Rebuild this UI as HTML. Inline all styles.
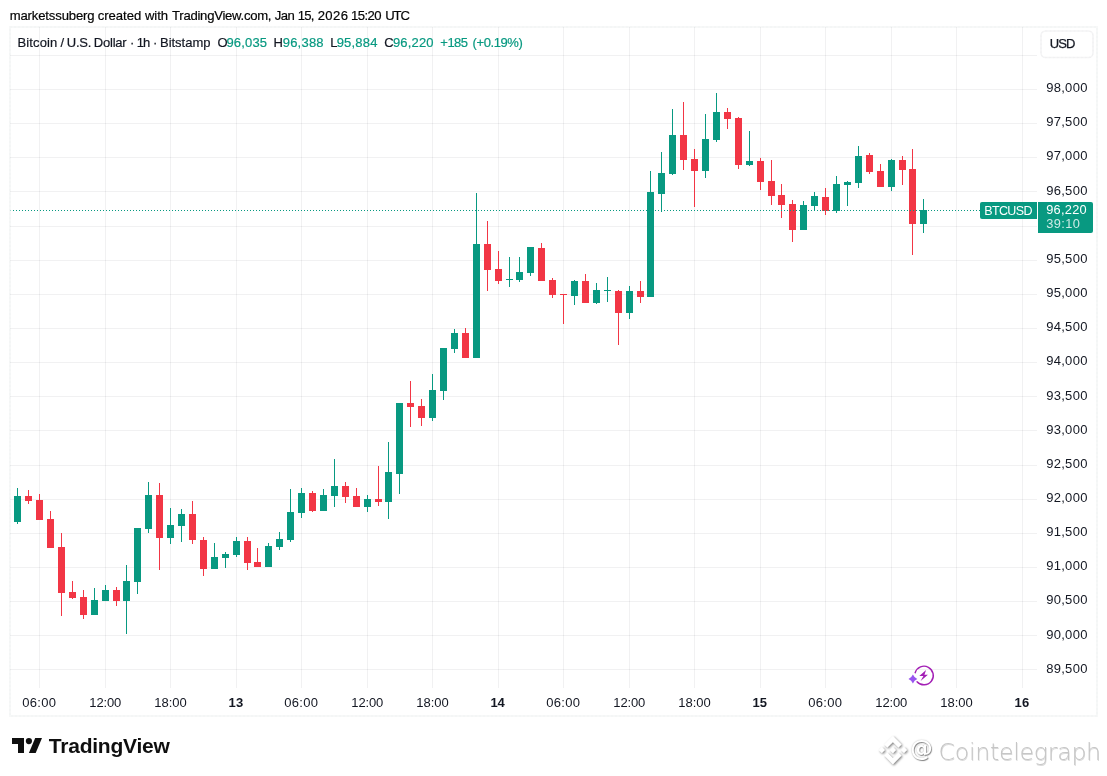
<!DOCTYPE html>
<html><head><meta charset="utf-8"><title>BTCUSD 1h chart</title>
<style>
html,body{margin:0;padding:0;background:#fff;overflow:hidden;}
body{width:1107px;height:776px;overflow:hidden;position:relative;font-family:"Liberation Sans",sans-serif;}
.abs{position:absolute;}
.t{position:absolute;white-space:pre;line-height:20px;height:20px;color:#131722;}
.t::before{content:"";display:inline-block;height:20px;vertical-align:baseline;}
#sym{position:absolute;left:980px;top:202px;width:57px;height:17px;background:#089981;border-radius:2px 0 0 2px;}
#prc{position:absolute;left:1038px;top:202px;width:55px;height:31px;background:#089981;border-radius:0 2px 2px 0;}
</style></head><body>
<svg class="abs" style="left:0;top:0" width="1107" height="776" viewBox="0 0 1107 776" shape-rendering="crispEdges">
<rect x="10" y="55" width="1027" height="1" fill="#2a2e39" fill-opacity="0.065"/>
<rect x="10" y="89" width="1027" height="1" fill="#2a2e39" fill-opacity="0.065"/>
<rect x="10" y="123" width="1027" height="1" fill="#2a2e39" fill-opacity="0.065"/>
<rect x="10" y="157" width="1027" height="1" fill="#2a2e39" fill-opacity="0.065"/>
<rect x="10" y="191" width="1027" height="1" fill="#2a2e39" fill-opacity="0.065"/>
<rect x="10" y="226" width="1027" height="1" fill="#2a2e39" fill-opacity="0.065"/>
<rect x="10" y="260" width="1027" height="1" fill="#2a2e39" fill-opacity="0.065"/>
<rect x="10" y="294" width="1027" height="1" fill="#2a2e39" fill-opacity="0.065"/>
<rect x="10" y="328" width="1027" height="1" fill="#2a2e39" fill-opacity="0.065"/>
<rect x="10" y="362" width="1027" height="1" fill="#2a2e39" fill-opacity="0.065"/>
<rect x="10" y="396" width="1027" height="1" fill="#2a2e39" fill-opacity="0.065"/>
<rect x="10" y="430" width="1027" height="1" fill="#2a2e39" fill-opacity="0.065"/>
<rect x="10" y="465" width="1027" height="1" fill="#2a2e39" fill-opacity="0.065"/>
<rect x="10" y="499" width="1027" height="1" fill="#2a2e39" fill-opacity="0.065"/>
<rect x="10" y="533" width="1027" height="1" fill="#2a2e39" fill-opacity="0.065"/>
<rect x="10" y="567" width="1027" height="1" fill="#2a2e39" fill-opacity="0.065"/>
<rect x="10" y="601" width="1027" height="1" fill="#2a2e39" fill-opacity="0.065"/>
<rect x="10" y="635" width="1027" height="1" fill="#2a2e39" fill-opacity="0.065"/>
<rect x="10" y="669" width="1027" height="1" fill="#2a2e39" fill-opacity="0.065"/>
<rect x="39" y="27" width="1" height="661" fill="#2a2e39" fill-opacity="0.065"/>
<rect x="105" y="27" width="1" height="661" fill="#2a2e39" fill-opacity="0.065"/>
<rect x="170" y="27" width="1" height="661" fill="#2a2e39" fill-opacity="0.065"/>
<rect x="236" y="27" width="1" height="661" fill="#2a2e39" fill-opacity="0.065"/>
<rect x="301" y="27" width="1" height="661" fill="#2a2e39" fill-opacity="0.065"/>
<rect x="367" y="27" width="1" height="661" fill="#2a2e39" fill-opacity="0.065"/>
<rect x="432" y="27" width="1" height="661" fill="#2a2e39" fill-opacity="0.065"/>
<rect x="498" y="27" width="1" height="661" fill="#2a2e39" fill-opacity="0.065"/>
<rect x="563" y="27" width="1" height="661" fill="#2a2e39" fill-opacity="0.065"/>
<rect x="629" y="27" width="1" height="661" fill="#2a2e39" fill-opacity="0.065"/>
<rect x="694" y="27" width="1" height="661" fill="#2a2e39" fill-opacity="0.065"/>
<rect x="760" y="27" width="1" height="661" fill="#2a2e39" fill-opacity="0.065"/>
<rect x="825" y="27" width="1" height="661" fill="#2a2e39" fill-opacity="0.065"/>
<rect x="891" y="27" width="1" height="661" fill="#2a2e39" fill-opacity="0.065"/>
<rect x="956" y="27" width="1" height="661" fill="#2a2e39" fill-opacity="0.065"/>
<rect x="1022" y="27" width="1" height="661" fill="#2a2e39" fill-opacity="0.065"/>
<rect x="17" y="488" width="1" height="36" fill="#089981"/>
<rect x="14" y="496" width="7" height="26" fill="#089981"/>
<rect x="28" y="490" width="1" height="14" fill="#f23645"/>
<rect x="25" y="496" width="7" height="5" fill="#f23645"/>
<rect x="39" y="494" width="1" height="26" fill="#f23645"/>
<rect x="36" y="500" width="7" height="20" fill="#f23645"/>
<rect x="50" y="511" width="1" height="37" fill="#f23645"/>
<rect x="47" y="519" width="7" height="29" fill="#f23645"/>
<rect x="61" y="533" width="1" height="83" fill="#f23645"/>
<rect x="58" y="547" width="7" height="46" fill="#f23645"/>
<rect x="72" y="581" width="1" height="18" fill="#f23645"/>
<rect x="69" y="592" width="7" height="6" fill="#f23645"/>
<rect x="83" y="590" width="1" height="29" fill="#f23645"/>
<rect x="80" y="597" width="7" height="18" fill="#f23645"/>
<rect x="94" y="588" width="1" height="27" fill="#089981"/>
<rect x="91" y="600" width="7" height="15" fill="#089981"/>
<rect x="105" y="585" width="1" height="16" fill="#089981"/>
<rect x="102" y="590" width="7" height="11" fill="#089981"/>
<rect x="116" y="587" width="1" height="19" fill="#f23645"/>
<rect x="113" y="590" width="7" height="11" fill="#f23645"/>
<rect x="126" y="565" width="1" height="69" fill="#089981"/>
<rect x="123" y="581" width="7" height="20" fill="#089981"/>
<rect x="137" y="528" width="1" height="66" fill="#089981"/>
<rect x="134" y="528" width="7" height="54" fill="#089981"/>
<rect x="148" y="482" width="1" height="51" fill="#089981"/>
<rect x="145" y="495" width="7" height="34" fill="#089981"/>
<rect x="159" y="483" width="1" height="87" fill="#f23645"/>
<rect x="156" y="495" width="7" height="43" fill="#f23645"/>
<rect x="170" y="508" width="1" height="36" fill="#089981"/>
<rect x="167" y="525" width="7" height="13" fill="#089981"/>
<rect x="181" y="509" width="1" height="33" fill="#089981"/>
<rect x="178" y="514" width="7" height="12" fill="#089981"/>
<rect x="192" y="501" width="1" height="43" fill="#f23645"/>
<rect x="189" y="514" width="7" height="26" fill="#f23645"/>
<rect x="203" y="537" width="1" height="39" fill="#f23645"/>
<rect x="200" y="540" width="7" height="29" fill="#f23645"/>
<rect x="214" y="543" width="1" height="26" fill="#089981"/>
<rect x="211" y="557" width="7" height="12" fill="#089981"/>
<rect x="225" y="552" width="1" height="16" fill="#089981"/>
<rect x="222" y="554" width="7" height="4" fill="#089981"/>
<rect x="236" y="537" width="1" height="20" fill="#089981"/>
<rect x="233" y="541" width="7" height="14" fill="#089981"/>
<rect x="247" y="537" width="1" height="33" fill="#f23645"/>
<rect x="244" y="541" width="7" height="22" fill="#f23645"/>
<rect x="257" y="548" width="1" height="19" fill="#f23645"/>
<rect x="254" y="562" width="7" height="5" fill="#f23645"/>
<rect x="268" y="543" width="1" height="24" fill="#089981"/>
<rect x="265" y="546" width="7" height="21" fill="#089981"/>
<rect x="279" y="532" width="1" height="18" fill="#089981"/>
<rect x="276" y="539" width="7" height="8" fill="#089981"/>
<rect x="290" y="489" width="1" height="53" fill="#089981"/>
<rect x="287" y="512" width="7" height="28" fill="#089981"/>
<rect x="301" y="488" width="1" height="30" fill="#089981"/>
<rect x="298" y="493" width="7" height="20" fill="#089981"/>
<rect x="312" y="491" width="1" height="21" fill="#f23645"/>
<rect x="309" y="493" width="7" height="18" fill="#f23645"/>
<rect x="323" y="489" width="1" height="22" fill="#089981"/>
<rect x="320" y="495" width="7" height="16" fill="#089981"/>
<rect x="334" y="459" width="1" height="48" fill="#089981"/>
<rect x="331" y="486" width="7" height="10" fill="#089981"/>
<rect x="345" y="482" width="1" height="21" fill="#f23645"/>
<rect x="342" y="486" width="7" height="11" fill="#f23645"/>
<rect x="356" y="488" width="1" height="19" fill="#f23645"/>
<rect x="353" y="496" width="7" height="11" fill="#f23645"/>
<rect x="367" y="495" width="1" height="17" fill="#089981"/>
<rect x="364" y="499" width="7" height="8" fill="#089981"/>
<rect x="378" y="466" width="1" height="40" fill="#f23645"/>
<rect x="375" y="499" width="7" height="3" fill="#f23645"/>
<rect x="388" y="442" width="1" height="77" fill="#089981"/>
<rect x="385" y="472" width="7" height="30" fill="#089981"/>
<rect x="399" y="403" width="1" height="91" fill="#089981"/>
<rect x="396" y="403" width="7" height="71" fill="#089981"/>
<rect x="410" y="381" width="1" height="46" fill="#f23645"/>
<rect x="407" y="403" width="7" height="4" fill="#f23645"/>
<rect x="421" y="399" width="1" height="27" fill="#f23645"/>
<rect x="418" y="406" width="7" height="12" fill="#f23645"/>
<rect x="432" y="374" width="1" height="47" fill="#089981"/>
<rect x="429" y="390" width="7" height="28" fill="#089981"/>
<rect x="443" y="348" width="1" height="52" fill="#089981"/>
<rect x="440" y="348" width="7" height="43" fill="#089981"/>
<rect x="454" y="329" width="1" height="24" fill="#089981"/>
<rect x="451" y="333" width="7" height="16" fill="#089981"/>
<rect x="465" y="328" width="1" height="30" fill="#f23645"/>
<rect x="462" y="333" width="7" height="25" fill="#f23645"/>
<rect x="476" y="193" width="1" height="165" fill="#089981"/>
<rect x="473" y="244" width="7" height="114" fill="#089981"/>
<rect x="487" y="221" width="1" height="70" fill="#f23645"/>
<rect x="484" y="244" width="7" height="26" fill="#f23645"/>
<rect x="498" y="251" width="1" height="33" fill="#f23645"/>
<rect x="495" y="269" width="7" height="12" fill="#f23645"/>
<rect x="509" y="257" width="1" height="30" fill="#089981"/>
<rect x="506" y="279" width="7" height="1" fill="#089981"/>
<rect x="519" y="257" width="1" height="25" fill="#089981"/>
<rect x="516" y="272" width="7" height="8" fill="#089981"/>
<rect x="530" y="247" width="1" height="29" fill="#089981"/>
<rect x="527" y="247" width="7" height="26" fill="#089981"/>
<rect x="541" y="243" width="1" height="38" fill="#f23645"/>
<rect x="538" y="248" width="7" height="33" fill="#f23645"/>
<rect x="552" y="278" width="1" height="20" fill="#f23645"/>
<rect x="549" y="280" width="7" height="15" fill="#f23645"/>
<rect x="563" y="294" width="1" height="30" fill="#f23645"/>
<rect x="560" y="294" width="7" height="1" fill="#f23645"/>
<rect x="574" y="280" width="1" height="25" fill="#089981"/>
<rect x="571" y="281" width="7" height="15" fill="#089981"/>
<rect x="585" y="274" width="1" height="29" fill="#f23645"/>
<rect x="582" y="281" width="7" height="22" fill="#f23645"/>
<rect x="596" y="283" width="1" height="21" fill="#089981"/>
<rect x="593" y="290" width="7" height="13" fill="#089981"/>
<rect x="607" y="277" width="1" height="25" fill="#089981"/>
<rect x="604" y="290" width="7" height="1" fill="#089981"/>
<rect x="618" y="290" width="1" height="55" fill="#f23645"/>
<rect x="615" y="291" width="7" height="22" fill="#f23645"/>
<rect x="629" y="286" width="1" height="33" fill="#089981"/>
<rect x="626" y="291" width="7" height="22" fill="#089981"/>
<rect x="640" y="281" width="1" height="22" fill="#f23645"/>
<rect x="637" y="291" width="7" height="6" fill="#f23645"/>
<rect x="650" y="171" width="1" height="126" fill="#089981"/>
<rect x="647" y="192" width="7" height="105" fill="#089981"/>
<rect x="661" y="152" width="1" height="60" fill="#089981"/>
<rect x="658" y="173" width="7" height="21" fill="#089981"/>
<rect x="672" y="109" width="1" height="66" fill="#089981"/>
<rect x="669" y="135" width="7" height="39" fill="#089981"/>
<rect x="683" y="102" width="1" height="68" fill="#f23645"/>
<rect x="680" y="135" width="7" height="25" fill="#f23645"/>
<rect x="694" y="149" width="1" height="58" fill="#f23645"/>
<rect x="691" y="159" width="7" height="12" fill="#f23645"/>
<rect x="705" y="114" width="1" height="64" fill="#089981"/>
<rect x="702" y="139" width="7" height="32" fill="#089981"/>
<rect x="716" y="93" width="1" height="49" fill="#089981"/>
<rect x="713" y="112" width="7" height="28" fill="#089981"/>
<rect x="727" y="108" width="1" height="21" fill="#f23645"/>
<rect x="724" y="112" width="7" height="7" fill="#f23645"/>
<rect x="738" y="117" width="1" height="52" fill="#f23645"/>
<rect x="735" y="118" width="7" height="47" fill="#f23645"/>
<rect x="749" y="131" width="1" height="35" fill="#089981"/>
<rect x="746" y="161" width="7" height="4" fill="#089981"/>
<rect x="760" y="158" width="1" height="32" fill="#f23645"/>
<rect x="757" y="161" width="7" height="21" fill="#f23645"/>
<rect x="771" y="160" width="1" height="45" fill="#f23645"/>
<rect x="768" y="181" width="7" height="15" fill="#f23645"/>
<rect x="781" y="184" width="1" height="34" fill="#f23645"/>
<rect x="778" y="195" width="7" height="10" fill="#f23645"/>
<rect x="792" y="200" width="1" height="42" fill="#f23645"/>
<rect x="789" y="204" width="7" height="26" fill="#f23645"/>
<rect x="803" y="201" width="1" height="29" fill="#089981"/>
<rect x="800" y="205" width="7" height="25" fill="#089981"/>
<rect x="814" y="192" width="1" height="19" fill="#089981"/>
<rect x="811" y="196" width="7" height="10" fill="#089981"/>
<rect x="825" y="188" width="1" height="27" fill="#f23645"/>
<rect x="822" y="197" width="7" height="14" fill="#f23645"/>
<rect x="836" y="176" width="1" height="37" fill="#089981"/>
<rect x="833" y="184" width="7" height="27" fill="#089981"/>
<rect x="847" y="181" width="1" height="25" fill="#089981"/>
<rect x="844" y="182" width="7" height="3" fill="#089981"/>
<rect x="858" y="146" width="1" height="42" fill="#089981"/>
<rect x="855" y="156" width="7" height="27" fill="#089981"/>
<rect x="869" y="153" width="1" height="21" fill="#f23645"/>
<rect x="866" y="155" width="7" height="17" fill="#f23645"/>
<rect x="880" y="164" width="1" height="23" fill="#f23645"/>
<rect x="877" y="171" width="7" height="16" fill="#f23645"/>
<rect x="891" y="159" width="1" height="32" fill="#089981"/>
<rect x="888" y="160" width="7" height="27" fill="#089981"/>
<rect x="902" y="156" width="1" height="29" fill="#f23645"/>
<rect x="899" y="160" width="7" height="10" fill="#f23645"/>
<rect x="912" y="149" width="1" height="106" fill="#f23645"/>
<rect x="909" y="169" width="7" height="55" fill="#f23645"/>
<rect x="923" y="199" width="1" height="34" fill="#089981"/>
<rect x="920" y="210" width="7" height="14" fill="#089981"/>
<path d="M13 210.5h1M16 210.5h1M19 210.5h1M22 210.5h1M25 210.5h1M28 210.5h1M31 210.5h1M34 210.5h1M37 210.5h1M40 210.5h1M43 210.5h1M46 210.5h1M49 210.5h1M52 210.5h1M55 210.5h1M58 210.5h1M61 210.5h1M64 210.5h1M67 210.5h1M70 210.5h1M73 210.5h1M76 210.5h1M79 210.5h1M82 210.5h1M85 210.5h1M88 210.5h1M91 210.5h1M94 210.5h1M97 210.5h1M100 210.5h1M103 210.5h1M106 210.5h1M109 210.5h1M112 210.5h1M115 210.5h1M118 210.5h1M121 210.5h1M124 210.5h1M127 210.5h1M130 210.5h1M133 210.5h1M136 210.5h1M139 210.5h1M142 210.5h1M145 210.5h1M148 210.5h1M151 210.5h1M154 210.5h1M157 210.5h1M160 210.5h1M163 210.5h1M166 210.5h1M169 210.5h1M172 210.5h1M175 210.5h1M178 210.5h1M181 210.5h1M184 210.5h1M187 210.5h1M190 210.5h1M193 210.5h1M196 210.5h1M199 210.5h1M202 210.5h1M205 210.5h1M208 210.5h1M211 210.5h1M214 210.5h1M217 210.5h1M220 210.5h1M223 210.5h1M226 210.5h1M229 210.5h1M232 210.5h1M235 210.5h1M238 210.5h1M241 210.5h1M244 210.5h1M247 210.5h1M250 210.5h1M253 210.5h1M256 210.5h1M259 210.5h1M262 210.5h1M265 210.5h1M268 210.5h1M271 210.5h1M274 210.5h1M277 210.5h1M280 210.5h1M283 210.5h1M286 210.5h1M289 210.5h1M292 210.5h1M295 210.5h1M298 210.5h1M301 210.5h1M304 210.5h1M307 210.5h1M310 210.5h1M313 210.5h1M316 210.5h1M319 210.5h1M322 210.5h1M325 210.5h1M328 210.5h1M331 210.5h1M334 210.5h1M337 210.5h1M340 210.5h1M343 210.5h1M346 210.5h1M349 210.5h1M352 210.5h1M355 210.5h1M358 210.5h1M361 210.5h1M364 210.5h1M367 210.5h1M370 210.5h1M373 210.5h1M376 210.5h1M379 210.5h1M382 210.5h1M385 210.5h1M388 210.5h1M391 210.5h1M394 210.5h1M397 210.5h1M400 210.5h1M403 210.5h1M406 210.5h1M409 210.5h1M412 210.5h1M415 210.5h1M418 210.5h1M421 210.5h1M424 210.5h1M427 210.5h1M430 210.5h1M433 210.5h1M436 210.5h1M439 210.5h1M442 210.5h1M445 210.5h1M448 210.5h1M451 210.5h1M454 210.5h1M457 210.5h1M460 210.5h1M463 210.5h1M466 210.5h1M469 210.5h1M472 210.5h1M475 210.5h1M478 210.5h1M481 210.5h1M484 210.5h1M487 210.5h1M490 210.5h1M493 210.5h1M496 210.5h1M499 210.5h1M502 210.5h1M505 210.5h1M508 210.5h1M511 210.5h1M514 210.5h1M517 210.5h1M520 210.5h1M523 210.5h1M526 210.5h1M529 210.5h1M532 210.5h1M535 210.5h1M538 210.5h1M541 210.5h1M544 210.5h1M547 210.5h1M550 210.5h1M553 210.5h1M556 210.5h1M559 210.5h1M562 210.5h1M565 210.5h1M568 210.5h1M571 210.5h1M574 210.5h1M577 210.5h1M580 210.5h1M583 210.5h1M586 210.5h1M589 210.5h1M592 210.5h1M595 210.5h1M598 210.5h1M601 210.5h1M604 210.5h1M607 210.5h1M610 210.5h1M613 210.5h1M616 210.5h1M619 210.5h1M622 210.5h1M625 210.5h1M628 210.5h1M631 210.5h1M634 210.5h1M637 210.5h1M640 210.5h1M643 210.5h1M646 210.5h1M649 210.5h1M652 210.5h1M655 210.5h1M658 210.5h1M661 210.5h1M664 210.5h1M667 210.5h1M670 210.5h1M673 210.5h1M676 210.5h1M679 210.5h1M682 210.5h1M685 210.5h1M688 210.5h1M691 210.5h1M694 210.5h1M697 210.5h1M700 210.5h1M703 210.5h1M706 210.5h1M709 210.5h1M712 210.5h1M715 210.5h1M718 210.5h1M721 210.5h1M724 210.5h1M727 210.5h1M730 210.5h1M733 210.5h1M736 210.5h1M739 210.5h1M742 210.5h1M745 210.5h1M748 210.5h1M751 210.5h1M754 210.5h1M757 210.5h1M760 210.5h1M763 210.5h1M766 210.5h1M769 210.5h1M772 210.5h1M775 210.5h1M778 210.5h1M781 210.5h1M784 210.5h1M787 210.5h1M790 210.5h1M793 210.5h1M796 210.5h1M799 210.5h1M802 210.5h1M805 210.5h1M808 210.5h1M811 210.5h1M814 210.5h1M817 210.5h1M820 210.5h1M823 210.5h1M826 210.5h1M829 210.5h1M832 210.5h1M835 210.5h1M838 210.5h1M841 210.5h1M844 210.5h1M847 210.5h1M850 210.5h1M853 210.5h1M856 210.5h1M859 210.5h1M862 210.5h1M865 210.5h1M868 210.5h1M871 210.5h1M874 210.5h1M877 210.5h1M880 210.5h1M883 210.5h1M886 210.5h1M889 210.5h1M892 210.5h1M895 210.5h1M898 210.5h1M901 210.5h1M904 210.5h1M907 210.5h1M910 210.5h1M913 210.5h1M916 210.5h1M919 210.5h1M922 210.5h1M925 210.5h1M928 210.5h1M931 210.5h1M934 210.5h1M937 210.5h1M940 210.5h1M943 210.5h1M946 210.5h1M949 210.5h1M952 210.5h1M955 210.5h1M958 210.5h1M961 210.5h1M964 210.5h1M967 210.5h1M970 210.5h1M973 210.5h1M976 210.5h1M979 210.5h1" stroke="#089981" stroke-width="1" fill="none"/>
<rect x="10" y="210" width="1" height="1" fill="#089981" fill-opacity="0.350"/>
</svg>
<svg class="abs" style="left:0;top:0" width="1107" height="776" viewBox="0 0 1107 776"><rect x="10" y="27" width="1087" height="689" fill="none" stroke="#2a2e39" stroke-opacity="0.036" stroke-width="2"/><rect x="10" y="27" width="1087" height="689" fill="none" stroke="#2a2e39" stroke-opacity="0.012" stroke-width="2" stroke-dasharray="2 2"/><rect x="1041" y="31" width="52" height="26.500" rx="4.500" fill="#fff" stroke="#2a2e39" stroke-opacity="0.05" stroke-width="1.600"/><rect x="1041" y="31" width="52" height="26.500" rx="4.500" fill="none" stroke="#2a2e39" stroke-opacity="0.015" stroke-width="1.600" stroke-dasharray="2 2"/></svg>
<div id="sym"></div><div id="prc"></div>
<svg class="abs" style="left:904px;top:660px" width="36" height="30" viewBox="0 0 36 30"><path d="M11.140 12.680A9.300 9.300 0 1 1 13.040 21.670" fill="none" stroke="#a31fb5" stroke-width="1.400" stroke-linecap="round"/><path d="M22.100 10.100L15.300 15.900H19.400L16.600 21L23.900 14.800H20.400Z" fill="#a31fb5"/><path d="M8.900 14.600Q10.200 17.700 13.300 19Q10.200 20.300 8.900 23.400Q7.600 20.300 4.500 19Q7.600 17.700 8.900 14.600Z" fill="#9855f0"/></svg>
<svg class="abs" style="left:12px;top:738px" width="30" height="15" viewBox="0 0 30 15"><path fill="#0f0f0f" d="M0 0h12v15H6V6H0z"/><circle cx="16.900" cy="3.100" r="3.100" fill="#0f0f0f"/><path fill="#0f0f0f" d="M23.2 0H30l-6.3 15h-6.8z"/></svg>
<svg class="abs" style="left:870px;top:728px;filter:drop-shadow(1px 1px 0.900px rgba(0,0,0,0.5))" width="46" height="46" viewBox="0 0 46 46"><path transform="translate(0.020 -0.780) scale(1.430)" fill="#fff" d="M12.116 14.404L16 10.520l3.886 3.886 2.260-2.260L16 6l-6.144 6.144 2.260 2.260zM6 16l2.260-2.260L10.520 16l-2.260 2.260L6 16zm6.116 1.596L16 21.480l3.886-3.886 2.260 2.259L16 26l-6.144-6.144-.003-.003 2.263-2.257zM21.480 16l2.260-2.260L26 16l-2.260 2.260L21.480 16zm-3.188-.002h.002V16L16 18.294l-2.291-2.290-.004-.004.004-.003.401-.402.195-.195L16 13.706l2.293 2.293z"/></svg>
<div class="t" style="left:9.70px;top:0.30px;font-size:13.1px;color:#050505;letter-spacing:-0.144px;-webkit-text-stroke:0.2px currentColor;">marketssuberg</div>
<div class="t" style="left:97.75px;top:0.30px;font-size:13.1px;color:#050505;letter-spacing:-0.044px;-webkit-text-stroke:0.2px currentColor;">created</div>
<div class="t" style="left:144.95px;top:0.30px;font-size:13.1px;color:#050505;letter-spacing:-0.049px;-webkit-text-stroke:0.2px currentColor;">with</div>
<div class="t" style="left:172.08px;top:0.30px;font-size:13.1px;color:#050505;letter-spacing:-0.262px;-webkit-text-stroke:0.2px currentColor;">TradingView.com,</div>
<div class="t" style="left:274.67px;top:0.30px;font-size:13.1px;color:#050505;letter-spacing:-0.437px;-webkit-text-stroke:0.2px currentColor;">Jan</div>
<div class="t" style="left:297.84px;top:0.30px;font-size:13.1px;color:#050505;letter-spacing:-0.880px;-webkit-text-stroke:0.2px currentColor;">15,</div>
<div class="t" style="left:317.69px;top:0.30px;font-size:13.1px;color:#050505;letter-spacing:0.395px;-webkit-text-stroke:0.2px currentColor;">2026</div>
<div class="t" style="left:351.00px;top:0.30px;font-size:13.1px;color:#050505;letter-spacing:-0.535px;-webkit-text-stroke:0.2px currentColor;">15:20</div>
<div class="t" style="left:385.35px;top:0.30px;font-size:13.1px;color:#050505;letter-spacing:-1.190px;-webkit-text-stroke:0.2px currentColor;">UTC</div>
<div class="t" style="left:17.49px;top:27.30px;font-size:13px;letter-spacing:0.140px;-webkit-text-stroke:0.2px currentColor;">Bitcoin</div>
<div class="t" style="left:60.48px;top:27.30px;font-size:13px;-webkit-text-stroke:0.2px currentColor;">/</div>
<div class="t" style="left:66.84px;top:27.30px;font-size:13px;letter-spacing:-0.291px;-webkit-text-stroke:0.2px currentColor;">U.S.</div>
<div class="t" style="left:93.81px;top:27.30px;font-size:13px;letter-spacing:-0.225px;-webkit-text-stroke:0.2px currentColor;">Dollar</div>
<div class="t" style="left:129.93px;top:27.30px;font-size:13px;-webkit-text-stroke:0.2px currentColor;">·</div>
<div class="t" style="left:136.71px;top:27.30px;font-size:13px;letter-spacing:-0.902px;-webkit-text-stroke:0.2px currentColor;">1h</div>
<div class="t" style="left:152.93px;top:27.30px;font-size:13px;-webkit-text-stroke:0.2px currentColor;">·</div>
<div class="t" style="left:159.99px;top:27.30px;font-size:13px;letter-spacing:-0.020px;-webkit-text-stroke:0.2px currentColor;">Bitstamp</div>
<div class="t" style="left:217.43px;top:27.30px;font-size:13px;-webkit-text-stroke:0.2px currentColor;">O</div>
<div class="t" style="left:226.49px;top:27.30px;font-size:13px;color:#089981;letter-spacing:0.159px;-webkit-text-stroke:0.2px currentColor;">96,035</div>
<div class="t" style="left:273.39px;top:27.30px;font-size:13px;-webkit-text-stroke:0.2px currentColor;">H</div>
<div class="t" style="left:282.68px;top:27.30px;font-size:13px;color:#089981;letter-spacing:0.228px;-webkit-text-stroke:0.2px currentColor;">96,388</div>
<div class="t" style="left:330.27px;top:27.30px;font-size:13px;-webkit-text-stroke:0.2px currentColor;">L</div>
<div class="t" style="left:336.68px;top:27.30px;font-size:13px;color:#089981;letter-spacing:0.198px;-webkit-text-stroke:0.2px currentColor;">95,884</div>
<div class="t" style="left:384.30px;top:27.30px;font-size:13px;-webkit-text-stroke:0.2px currentColor;">C</div>
<div class="t" style="left:392.90px;top:27.30px;font-size:13px;color:#089981;letter-spacing:0.174px;-webkit-text-stroke:0.2px currentColor;">96,220</div>
<div class="t" style="left:440.30px;top:27.30px;font-size:13px;color:#089981;letter-spacing:-0.508px;-webkit-text-stroke:0.2px currentColor;">+185</div>
<div class="t" style="left:472.59px;top:27.30px;font-size:13px;color:#089981;letter-spacing:-0.417px;-webkit-text-stroke:0.2px currentColor;">(+0.19%)</div>
<div class="t" style="left:1049.79px;top:28.00px;font-size:13px;letter-spacing:-0.957px;-webkit-text-stroke:0.25px currentColor;">USD</div>
<div class="t" style="left:1046.13px;top:72.00px;font-size:13px;letter-spacing:0.309px;">98,000</div>
<div class="t" style="left:1046.13px;top:106.00px;font-size:13px;letter-spacing:0.309px;">97,500</div>
<div class="t" style="left:1046.13px;top:140.00px;font-size:13px;letter-spacing:0.309px;">97,000</div>
<div class="t" style="left:1046.13px;top:175.00px;font-size:13px;letter-spacing:0.309px;">96,500</div>
<div class="t" style="left:1046.13px;top:243.00px;font-size:13px;letter-spacing:0.309px;">95,500</div>
<div class="t" style="left:1046.13px;top:277.00px;font-size:13px;letter-spacing:0.309px;">95,000</div>
<div class="t" style="left:1046.13px;top:311.00px;font-size:13px;letter-spacing:0.309px;">94,500</div>
<div class="t" style="left:1046.13px;top:345.00px;font-size:13px;letter-spacing:0.309px;">94,000</div>
<div class="t" style="left:1046.13px;top:380.00px;font-size:13px;letter-spacing:0.309px;">93,500</div>
<div class="t" style="left:1046.13px;top:414.00px;font-size:13px;letter-spacing:0.309px;">93,000</div>
<div class="t" style="left:1046.13px;top:448.00px;font-size:13px;letter-spacing:0.309px;">92,500</div>
<div class="t" style="left:1046.13px;top:482.00px;font-size:13px;letter-spacing:0.309px;">92,000</div>
<div class="t" style="left:1046.13px;top:516.00px;font-size:13px;letter-spacing:0.309px;">91,500</div>
<div class="t" style="left:1046.13px;top:550.00px;font-size:13px;letter-spacing:0.309px;">91,000</div>
<div class="t" style="left:1046.13px;top:584.00px;font-size:13px;letter-spacing:0.309px;">90,500</div>
<div class="t" style="left:1046.14px;top:619.00px;font-size:13px;letter-spacing:0.304px;">90,000</div>
<div class="t" style="left:1046.13px;top:653.00px;font-size:13px;letter-spacing:0.308px;">89,500</div>
<div class="t" style="left:22.30px;top:687.00px;font-size:13px;letter-spacing:0.282px;">06:00</div>
<div class="t" style="left:89.32px;top:687.00px;font-size:13px;letter-spacing:-0.126px;">12:00</div>
<div class="t" style="left:154.32px;top:687.00px;font-size:13px;letter-spacing:-0.045px;">18:00</div>
<div class="t" style="left:228.42px;top:687.00px;font-size:13px;font-weight:700;letter-spacing:0.301px;">13</div>
<div class="t" style="left:284.30px;top:687.00px;font-size:13px;letter-spacing:0.282px;">06:00</div>
<div class="t" style="left:351.32px;top:687.00px;font-size:13px;letter-spacing:-0.126px;">12:00</div>
<div class="t" style="left:416.32px;top:687.00px;font-size:13px;letter-spacing:-0.045px;">18:00</div>
<div class="t" style="left:490.42px;top:687.00px;font-size:13px;font-weight:700;letter-spacing:-0.115px;">14</div>
<div class="t" style="left:546.30px;top:687.00px;font-size:13px;letter-spacing:0.282px;">06:00</div>
<div class="t" style="left:613.32px;top:687.00px;font-size:13px;letter-spacing:-0.126px;">12:00</div>
<div class="t" style="left:678.32px;top:687.00px;font-size:13px;letter-spacing:-0.045px;">18:00</div>
<div class="t" style="left:752.42px;top:687.00px;font-size:13px;font-weight:700;letter-spacing:0.173px;">15</div>
<div class="t" style="left:808.30px;top:687.00px;font-size:13px;letter-spacing:0.282px;">06:00</div>
<div class="t" style="left:875.32px;top:687.00px;font-size:13px;letter-spacing:-0.126px;">12:00</div>
<div class="t" style="left:940.32px;top:687.00px;font-size:13px;letter-spacing:-0.045px;">18:00</div>
<div class="t" style="left:1014.42px;top:687.00px;font-size:13px;font-weight:700;letter-spacing:0.330px;">16</div>
<div class="t" style="left:984.15px;top:195.00px;font-size:12.5px;color:#fff;letter-spacing:-0.589px;">BTCUSD</div>
<div class="t" style="left:1046.24px;top:194.40px;font-size:12.8px;color:#fff;letter-spacing:0.270px;">96,220</div>
<div class="t" style="left:1046.32px;top:208.30px;font-size:12.8px;color:rgba(255,255,255,0.8);letter-spacing:0.363px;">39:10</div>
<div class="t" style="left:48.82px;top:733.00px;font-size:21px;color:#0f0f0f;font-weight:700;letter-spacing:-0.229px;">TradingView</div>
<div class="t" style="left:910.13px;top:736.00px;font-size:22.5px;color:#fff;font-weight:700;font-family:'DejaVu Sans','Liberation Sans',sans-serif;text-shadow:0.800px 0.800px 1px rgba(0,0,0,0.45),0 0 1.500px rgba(0,0,0,0.3);">@</div>
<div class="t" style="left:938.52px;top:739.60px;font-size:23.6px;color:#c6c6c6;letter-spacing:-0.245px;font-family:'DejaVu Sans Light','DejaVu Sans','Liberation Sans',sans-serif;font-weight:200;text-shadow:0.500px 0.500px 0.500px rgba(0,0,0,0.15);">Cointelegraph</div>
</body></html>
